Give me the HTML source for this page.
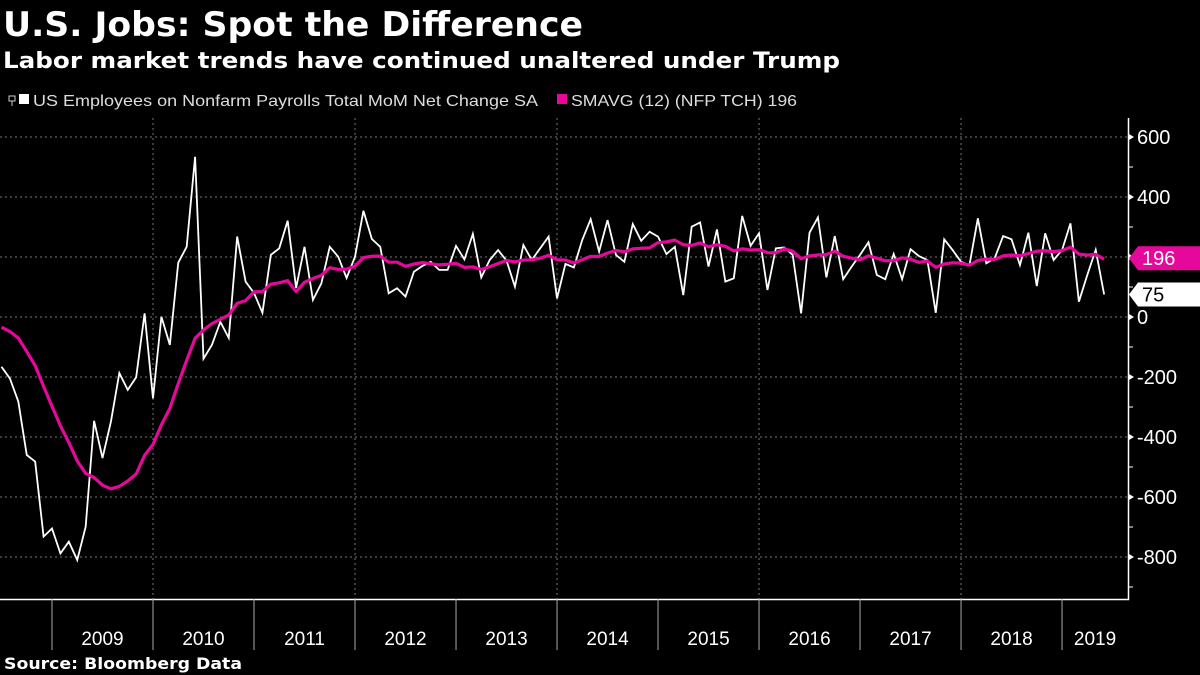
<!DOCTYPE html>
<html><head><meta charset="utf-8"><style>
body{margin:0;background:#000;width:1200px;height:675px;overflow:hidden;font-family:"Liberation Sans","DejaVu Sans",sans-serif;color:#fff}
svg{position:absolute;left:0;top:0}
</style></head><body>
<svg id="c" width="1200" height="675">
<text x="3" y="36" font-size="34" font-weight="bold" fill="#fff" textLength="580" lengthAdjust="spacingAndGlyphs" font-family="DejaVu Sans, Liberation Sans, sans-serif">U.S. Jobs: Spot the Difference</text>
<text x="3" y="68" font-size="22" font-weight="bold" fill="#fff" textLength="837" lengthAdjust="spacingAndGlyphs" font-family="DejaVu Sans, Liberation Sans, sans-serif">Labor market trends have continued unaltered under Trump</text>
<text x="4" y="669" font-size="16" font-weight="bold" fill="#fff" textLength="238" lengthAdjust="spacingAndGlyphs" font-family="DejaVu Sans, Liberation Sans, sans-serif">Source: Bloomberg Data</text>
</svg>
<script>
// Monthly values, Jun 2008 .. May 2019 (thousands)
const payrolls=[-166,-205,-282,-460,-482,-732,-705,-788,-749,-810,-699,-346,-470,-349,-187,-243,-201,12,-271,1,-93,181,234,534,-139,-93,-16,-70,268,118,80,14,207,229,321,97,234,57,112,234,201,130,201,354,260,234,79,96,68,151,170,184,157,157,237,192,277,132,190,223,188,101,240,190,229,268,62,177,165,257,326,218,323,207,184,310,254,284,268,210,234,73,301,315,168,292,118,129,337,237,279,90,229,232,207,12,281,332,132,270,126,168,207,249,140,126,210,126,226,203,190,14,259,223,184,173,329,179,196,270,259,173,281,103,279,190,223,312,51,140,224,75];
// Prior months Jul 2007 .. May 2008 used to seed the 12-month average
const priorPayrolls=[-30,-20,80,80,100,90,-10,-80,-70,-200,-180];
const smavgLast=[196];
const yTicks=[600,400,200,0,-200,-400,-600,-800];
const years=["2009","2010","2011","2012","2013","2014","2015","2016","2017","2018","2019"];

const svg=document.getElementById('c');const NS='http://www.w3.org/2000/svg';
function mk(tag,attrs,parent){const e=document.createElementNS(NS,tag);for(const k in attrs)e.setAttribute(k,attrs[k]);(parent||svg).appendChild(e);return e;}
const X=i=>52+(i-6)*8.417;
const SEP=m=>52+m*8.417;
const Y=v=>317-v*0.3;
const all=priorPayrolls.concat(payrolls);
const ma=payrolls.map((v,i)=>{let s=0;for(let k=i;k<i+12;k++)s+=all[k];return s/12;});

yTicks.forEach(v=>{const l=mk('line',{x1:0,x2:1128,y1:Y(v),y2:Y(v),stroke:'#777','stroke-dasharray':'2,3','stroke-width':1});

});
[12,36,60,84,108].forEach(m=>{const l=mk('line',{x1:SEP(m),x2:SEP(m),y1:118,y2:599,stroke:'#777','stroke-dasharray':'2,3'});

});
const ax=mk('path',{d:'M1128.5 118V599.5H0',stroke:'#fff','stroke-width':1.5,fill:'none'});


yTicks.forEach(v=>{const y=Y(v);
 const tk=mk('path',{d:`M1129 ${y-3}L1134 ${y}L1129 ${y+3}Z`,fill:'#fff'});
 
 
 const mn=mk('line',{x1:1128,x2:1133,y1:Y(v-100),y2:Y(v-100),stroke:'#fff'});
 
 
 const t=mk('text',{x:1137,y:y+7,fill:'#fff','font-size':20});t.textContent=v;
 
 });
years.forEach((yr,k)=>{const x0=SEP(k*12);
 const l=mk('line',{x1:x0,x2:x0,y1:599,y2:650,stroke:'#aaa'});
 
 
 const x1=Math.min(SEP(k*12+12),1128);
 const t=mk('text',{x:(x0+x1)/2,y:645,fill:'#fff','font-size':19,'text-anchor':'middle'});t.textContent=yr;
 
 });
const pl=mk('polyline',{points:payrolls.map((v,i)=>X(i)+','+Y(v)).join(' '),fill:'none',stroke:'#fff','stroke-width':1.8,'stroke-linejoin':'miter'});


const ml=mk('polyline',{points:ma.map((v,i)=>X(i)+','+Y(v)).join(' '),fill:'none',stroke:'#e6079b','stroke-width':3.2,'stroke-linejoin':'round'});


function tag(v,txt,bg,fg,name){const y=Y(v);
 const p=mk('path',{d:`M1129 ${y}L1138 ${y-12}H1200V${y+12}H1138Z`,fill:bg});
 
 
 const t=mk('text',{x:1142,y:y+7,fill:fg,'font-size':20});t.textContent=txt;
 
 }
tag(smavgLast[0],smavgLast[0],'#e6079b','#fff','ma-last-value');
tag(payrolls[payrolls.length-1],payrolls[payrolls.length-1],'#fff','#000','payrolls-last-value');
const lg=mk('g',{});


mk('rect',{x:9,y:96,width:6,height:5,fill:'none',stroke:'#ccc','stroke-width':1},lg);
mk('line',{x1:12,x2:12,y1:101,y2:106,stroke:'#ccc'},lg);
mk('rect',{x:19,y:94,width:10,height:10,fill:'#fff'},lg);
const l1=mk('text',{x:33,y:106,fill:'#ddd','font-size':16,textLength:505,lengthAdjust:'spacingAndGlyphs'},lg);l1.textContent='US Employees on Nonfarm Payrolls Total MoM Net Change SA';


mk('rect',{x:557,y:94,width:10,height:10,fill:'#e6079b'},lg);
const l2=mk('text',{x:571,y:106,fill:'#ddd','font-size':16,textLength:226,lengthAdjust:'spacingAndGlyphs'},lg);l2.textContent='SMAVG (12) (NFP TCH) '+smavgLast[0];


</script>
</body></html>
